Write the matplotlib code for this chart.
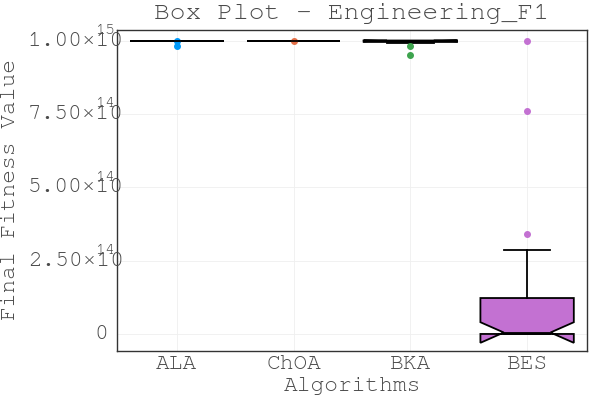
import matplotlib
matplotlib.use("Agg")
import matplotlib.pyplot as plt
import matplotlib.transforms as mtransforms
from matplotlib import font_manager

# ---- datos (fitness final por algoritmo) ----
algorithms = ["ALA", "ChOA", "BKA", "BES"]
colors = ["#009AFA", "#E36F47", "#3EA44E", "#C371D2"]

ala = [0.981e15, 0.998e15, 1.0e15, 1.0e15, 1.0e15, 1.0e15, 1.0e15, 1.0e15, 1.0e15, 1.0e15,
       1.0e15, 1.0e15, 1.0e15, 1.0e15, 1.0e15, 1.0e15, 1.0e15, 1.0e15, 1.0e15, 1.0e15,
       1.0e15, 1.0e15, 1.0e15, 1.0e15, 1.0e15, 1.0e15, 1.0e15, 1.0e15, 1.0e15, 1.0e15]
choa = [0.9995e15, 1.0e15, 1.0e15, 1.0e15, 1.0e15, 1.0e15, 1.0e15, 1.0e15, 1.0e15, 1.0e15,
        1.0e15, 1.0e15, 1.0e15, 1.0e15, 1.0e15, 1.0e15, 1.0e15, 1.0e15, 1.0e15, 1.0e15,
        1.0e15, 1.0e15, 1.0e15, 1.0e15, 1.0e15, 1.0e15, 1.0e15, 1.0e15, 1.0e15, 1.0e15]
bka = [0.950e15, 0.981e15, 0.990e15, 0.991e15, 0.993e15, 0.994e15, 0.9945e15, 0.995e15,
       0.9952e15, 0.996e15, 0.9968e15, 0.9975e15, 0.998e15, 0.9985e15, 0.999e15, 0.9993e15,
       0.9995e15, 0.9997e15, 0.9998e15, 0.9999e15, 1.0e15, 1.0e15, 1.0e15, 1.0e15, 1.0e15,
       1.0e15, 1.0e15, 1.0e15, 1.0e15, 1.0e15]
bes = [1e8, 2e8, 5e8, 1e9, 3e9, 8e9, 2e10, 5e10, 1e11, 3e11,
       6e11, 1e12, 2e12, 3e12, 4e12, 6e12, 1.5e13, 3e13, 5e13, 7e13,
       0.95e14, 1.15e14, 1.25e14, 1.6e14, 1.9e14, 2.3e14, 2.85e14, 3.42e14, 7.6e14, 1.0e15]

ytick_vals = [0, 2.5e14, 5.0e14, 7.5e14, 1.0e15]
ytick_mant = ["0", "2.50×10", "5.00×10", "7.50×10", "1.00×10"]
ytick_exp = ["", "14", "14", "14", "15"]

TXT = "#4a4a4a"
# monoespaciada tipo Courier si existe, si no Liberation Mono
installed = {f.name for f in font_manager.fontManager.ttflist}
FONT = [f for f in ["Nimbus Mono PS", "FreeMono", "Courier New", "Courier"] if f in installed]
FONT = FONT + ["Liberation Mono", "DejaVu Sans Mono"]
FS = 16.5

fig = plt.figure(figsize=(6, 4), dpi=100)
ax = fig.add_axes([117 / 600, 1 - 351 / 400, 470 / 600, 321.5 / 400])

data = [ala, choa, bka, bes]
bp = ax.boxplot(data, positions=range(1, 5), widths=0.8, notch=True, patch_artist=True,
                whis=1.5,
                boxprops=dict(linewidth=1.3, edgecolor="black"),
                medianprops=dict(color="black", linewidth=1.3),
                whiskerprops=dict(color="black", linewidth=1.3),
                capprops=dict(color="black", linewidth=1.3),
                zorder=3)
for patch, c in zip(bp["boxes"], colors):
    patch.set_facecolor(c)
for fl, c in zip(bp["fliers"], colors):
    fl.set(marker="o", markersize=4, markerfacecolor=c, markeredgecolor=c, alpha=1.0)

ax.set_xlim(0.487, 4.513)
ax.set_ylim(-0.058e15, 1.0375e15)
ax.set_xticks(range(1, 5))
ax.set_xticklabels(algorithms, fontsize=FS, family=FONT, color=TXT)
ax.tick_params(axis="x", length=0, pad=3)

ax.set_yticks(ytick_vals)
ax.set_yticklabels([])
ax.tick_params(axis="y", length=0)

# etiquetas del eje y (con exponente superpuesto como en el original)
trans = mtransforms.blended_transform_factory(ax.transAxes, ax.transData)
for v, m, e in zip(ytick_vals, ytick_mant, ytick_exp):
    if e:
        t = mtransforms.offset_copy(trans, fig=fig, x=7, y=0, units="dots")
        ax.text(0, v, m, transform=t, ha="right", va="center", fontsize=FS,
                family=FONT, color=TXT, clip_on=False)
        t2 = mtransforms.offset_copy(trans, fig=fig, x=-2, y=10, units="dots")
        ax.text(0, v, e, transform=t2, ha="right", va="center", fontsize=12,
                family=FONT, color=TXT, clip_on=False)
    else:
        t = mtransforms.offset_copy(trans, fig=fig, x=-9, y=0, units="dots")
        ax.text(0, v, m, transform=t, ha="right", va="center", fontsize=FS,
                family=FONT, color=TXT, clip_on=False)

ax.grid(True, color="#efefef", linewidth=0.6, zorder=0)
ax.set_axisbelow(True)
for s in ax.spines.values():
    s.set_color("#333333")
    s.set_linewidth(1.0)

fig.text(352 / 600, 1 - 13 / 400, "Box Plot - Engineering_F1", ha="center", va="center",
         fontsize=19, family=FONT, color=TXT)
fig.text(352 / 600, 1 - 386 / 400, "Algorithms", ha="center", va="center",
         fontsize=FS, family=FONT, color=TXT)
fig.text(10 / 600, 1 - 189 / 400, "Final Fitness Value", ha="center", va="center",
         rotation=90, fontsize=FS, family=FONT, color=TXT)

fig.savefig("out.png", dpi=100, facecolor="white")
